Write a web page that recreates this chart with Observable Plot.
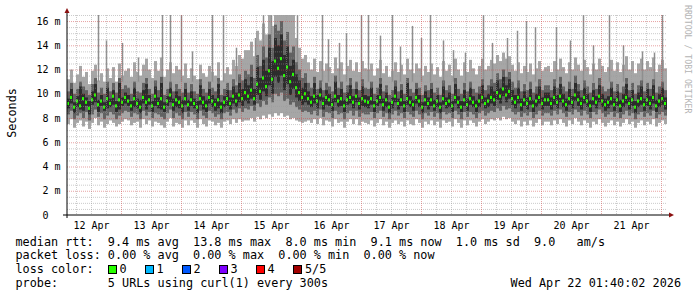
<!DOCTYPE html>
<html><head><meta charset="utf-8">
<script src="https://cdn.jsdelivr.net/npm/d3@7"></script>
<script src="https://cdn.jsdelivr.net/npm/@observablehq/plot@0.6"></script>
<style>body{margin:0;background:#fff}</style>
</head><body><div id="chart"></div>
<script>
// ---- time frame (UTC) ----
const startTime = Date.UTC(2026, 3, 12, 2, 24);
const endTime = Date.UTC(2026, 3, 22, 2, 24);
const stepMinutes = 72; // one column = 72 minutes, 200 columns

// ---- smoke bands (ms), one value per column, 20 per day ----
const hi = [
11.2,12.0,10.9,11.6,12.3,11.4,11.8,10.8,11.9,12.4,11.1,11.7,11.0,12.1,11.3,12.2,11.0,12.5,11.5,11.9,
12.1,11.4,12.6,11.8,11.5,12.4,12.9,12.0,11.3,12.7,11.9,13.0,11.4,12.0,12.6,11.7,12.3,12.0,11.5,12.5,
11.3,12.1,11.5,11.2,12.4,11.7,11.4,12.3,11.8,11.5,12.6,11.1,11.7,12.2,11.6,12.8,12.3,13.2,12.9,13.6,
13.6,14.3,13.1,15.2,14.4,15.8,14.9,16.6,15.6,16.6,16.6,16.6,16.6,16.6,16.6,16.6,14.6,13.8,12.9,13.2,
12.6,12.0,12.9,11.8,12.7,11.9,12.5,12.2,11.7,13.0,12.1,12.6,11.6,12.3,12.8,11.9,12.6,11.8,12.7,12.1,
12.0,12.5,11.5,12.1,12.8,11.7,12.3,11.4,11.9,12.6,11.8,12.4,11.6,12.9,12.0,11.7,12.5,12.1,11.5,12.3,
11.8,12.5,11.6,12.2,11.4,12.7,11.9,12.4,11.5,12.9,12.0,11.5,12.6,11.8,12.8,12.1,11.6,12.3,12.9,12.0,
12.3,12.8,12.5,13.2,12.7,13.4,12.9,13.1,12.4,11.9,12.6,11.7,12.3,11.8,12.5,11.6,12.1,12.7,11.9,12.2,
12.3,11.8,12.7,12.0,12.9,12.2,11.7,12.6,12.0,13.0,12.4,11.9,12.8,12.2,11.6,12.5,12.0,12.9,12.3,11.8,
12.2,12.8,11.9,12.6,11.8,12.4,13.1,12.0,12.7,11.7,12.5,12.9,12.0,12.7,12.2,13.0,11.8,12.4,12.8,12.1];
const q3 = [
10.2,10.9,10.0,10.4,11.0,10.6,10.3,9.9,10.8,11.3,10.1,10.5,10.0,11.0,10.2,10.9,10.1,11.3,10.4,10.7,
10.5,10.0,11.0,10.2,10.1,10.9,11.3,10.4,10.0,11.1,10.3,11.4,9.9,10.4,11.0,10.2,10.8,10.4,10.1,10.9,
10.1,10.8,10.2,10.0,11.2,10.4,10.1,11.0,10.5,10.2,11.3,9.9,10.4,10.9,10.3,11.2,10.7,11.6,11.1,11.9,
11.6,12.4,11.3,13.2,12.3,13.9,13.0,14.9,13.8,15.7,15.2,16.0,14.4,15.1,13.4,13.9,12.6,12.0,11.3,11.7,
10.9,10.5,11.4,10.4,11.1,10.3,10.9,10.6,10.2,11.5,10.5,11.0,10.1,10.7,11.3,10.4,11.0,10.3,11.2,10.5,
10.4,11.0,10.0,10.5,11.3,10.2,10.7,9.9,10.3,11.1,10.2,10.8,10.0,11.3,10.4,10.1,10.9,10.5,9.9,10.7,
10.3,10.9,10.1,10.5,9.9,11.1,10.3,10.7,10.0,11.3,10.4,10.0,10.9,10.2,11.0,10.4,10.1,10.6,11.2,10.3,
10.7,11.2,10.9,11.7,11.2,12.0,11.4,11.8,11.0,10.5,11.1,10.2,10.8,10.3,11.0,10.1,10.6,11.2,10.3,10.7,
10.7,10.3,11.2,10.5,11.4,10.6,10.2,11.0,10.4,11.5,10.8,10.3,11.1,10.6,10.1,10.9,10.4,11.3,10.6,10.2,
10.4,11.0,10.2,10.8,10.1,10.6,11.3,10.3,10.9,10.0,10.7,11.1,10.2,10.9,10.4,11.2,10.1,10.6,11.0,10.3];
const dhi = [
9.6,10.4,9.3,9.8,10.6,10.0,9.7,9.4,10.2,10.8,9.5,9.9,9.3,10.5,9.6,10.3,9.4,10.9,9.7,10.1,
9.9,9.4,10.5,9.6,9.5,10.3,10.8,9.9,9.4,10.6,9.7,10.9,9.3,9.8,10.5,9.6,10.2,9.8,9.5,10.4,
9.5,10.2,9.6,9.4,10.7,9.8,9.5,10.4,9.9,9.6,10.8,9.3,9.8,10.3,9.7,10.6,10.1,10.9,10.4,11.2,
10.7,11.4,10.4,12.2,11.3,12.8,11.9,13.8,12.7,14.6,14.0,14.9,13.2,13.9,12.3,12.8,11.6,11.1,10.5,10.9,
10.2,9.8,10.9,9.9,10.5,9.7,10.3,10.0,9.6,11.0,9.9,10.4,9.5,10.1,10.7,9.8,10.4,9.7,10.6,9.9,
9.8,10.5,9.4,9.9,10.8,9.6,10.1,9.3,9.7,10.6,9.6,10.3,9.4,10.9,9.8,9.5,10.4,9.9,9.3,10.2,
9.7,10.4,9.5,9.9,9.3,10.6,9.7,10.1,9.4,10.8,9.8,9.4,10.3,9.6,10.5,9.8,9.5,10.0,10.7,9.7,
10.0,10.6,10.2,11.1,10.5,11.4,10.7,11.2,10.3,9.9,10.5,9.6,10.2,9.7,10.4,9.5,10.0,10.6,9.7,10.1,
10.1,9.7,10.6,9.9,10.8,10.0,9.6,10.4,9.8,10.9,10.2,9.7,10.5,10.0,9.5,10.3,9.8,10.7,10.0,9.6,
9.8,10.5,9.6,10.2,9.5,10.0,10.8,9.7,10.3,9.4,10.1,10.6,9.6,10.4,9.8,10.7,9.5,10.0,10.5,9.7];
const med = [
9.2,9.7,8.9,9.4,9.0,9.6,9.3,8.8,9.5,9.9,9.1,9.4,8.9,9.6,9.2,9.8,9.0,9.5,9.3,9.7,
9.4,9.0,9.6,9.2,8.9,9.7,9.3,9.5,9.0,9.8,9.2,9.6,8.9,9.4,9.9,9.1,9.5,9.3,9.0,9.6,
9.1,9.5,9.2,8.9,9.6,9.3,9.0,9.7,9.4,9.1,9.5,8.9,9.3,9.6,9.2,9.8,9.4,9.9,9.6,10.1,
9.8,10.3,9.6,10.8,10.2,11.3,10.6,11.9,11.2,12.7,12.1,12.9,11.5,12.2,11.0,11.6,10.5,10.1,9.7,10.0,
9.6,9.3,9.8,9.4,9.9,9.2,9.7,9.5,9.1,9.8,9.4,9.6,9.0,9.5,9.7,9.3,9.8,9.2,9.6,9.4,
9.3,9.6,9.0,9.4,9.7,9.1,9.5,8.9,9.3,9.8,9.2,9.5,9.0,9.6,9.3,9.1,9.7,9.4,8.9,9.5,
9.2,9.5,9.0,9.4,8.9,9.6,9.2,9.4,9.0,9.7,9.3,8.9,9.5,9.1,9.6,9.3,9.0,9.4,9.7,9.2,
9.4,9.7,9.5,10.1,9.8,10.4,9.9,10.2,9.6,9.3,9.7,9.1,9.5,9.2,9.6,9.0,9.4,9.7,9.2,9.5,
9.5,9.2,9.7,9.3,9.8,9.4,9.1,9.6,9.3,9.9,9.5,9.2,9.7,9.4,9.0,9.6,9.3,9.8,9.4,9.1,
9.3,9.6,9.1,9.5,9.0,9.4,9.7,9.2,9.5,8.9,9.4,9.6,9.1,9.5,9.2,9.7,9.0,9.4,9.6,9.2];
const dlo = [
8.8,9.2,8.4,8.9,8.7,8.6,9.0,8.3,9.1,9.3,8.5,9.0,8.6,8.8,8.9,9.1,8.5,8.7,9.0,9.2,
9.0,8.6,8.9,8.8,8.4,9.2,8.7,9.1,8.5,9.0,8.8,8.7,8.5,9.0,9.3,8.6,8.9,8.8,8.4,9.1,
8.6,9.0,8.8,8.4,9.1,8.7,8.5,9.2,8.9,8.6,8.8,8.4,8.9,9.0,8.7,9.2,8.9,9.3,9.0,9.4,
9.2,9.6,9.1,9.9,9.5,10.2,9.8,10.7,10.0,11.4,10.9,11.5,10.3,10.8,9.9,10.4,9.7,9.4,9.1,9.3,
9.1,8.9,9.2,8.8,9.4,8.7,9.1,9.0,8.6,9.3,8.9,9.0,8.5,9.1,9.2,8.8,9.3,8.7,9.0,8.9,
8.8,9.1,8.5,9.0,9.2,8.6,8.9,8.4,8.8,9.3,8.7,9.0,8.5,9.1,8.9,8.6,9.2,8.9,8.4,9.0,
8.7,9.0,8.6,8.9,8.4,9.1,8.8,8.9,8.5,9.2,8.8,8.5,9.0,8.6,9.1,8.9,8.5,8.9,9.2,8.8,
8.9,9.2,9.0,9.5,9.2,9.8,9.3,9.6,9.1,8.8,9.2,8.6,9.0,8.7,9.1,8.5,8.9,9.2,8.7,9.0,
9.0,8.7,9.1,8.8,9.3,8.9,8.6,9.1,8.8,9.4,9.0,8.7,9.2,8.9,8.5,9.1,8.8,9.3,8.9,8.6,
8.8,9.1,8.6,9.0,8.5,8.9,9.2,8.7,9.0,8.4,8.9,9.1,8.6,9.0,8.7,9.2,8.5,8.9,9.1,8.7];
const q1 = [
8.3,8.6,7.9,8.2,8.4,8.0,8.5,7.8,8.3,8.7,8.1,8.4,7.9,8.2,8.5,8.3,7.9,8.2,8.4,8.6,
8.5,8.1,8.4,8.3,7.9,8.6,8.2,8.5,8.0,8.4,8.3,8.1,7.9,8.4,8.7,8.0,8.4,8.2,7.9,8.5,
8.1,8.5,8.3,7.9,8.6,8.2,8.0,8.6,8.4,8.1,8.3,7.9,8.4,8.5,8.2,8.7,8.4,8.8,8.5,8.8,
8.7,9.0,8.6,9.2,8.9,9.4,9.1,9.7,9.3,10.0,9.8,10.1,9.4,9.6,9.1,9.3,8.9,8.7,8.5,8.6,
8.5,8.3,8.6,8.2,8.7,8.1,8.5,8.4,8.0,8.6,8.3,8.4,7.9,8.4,8.6,8.2,8.6,8.1,8.4,8.3,
8.3,8.5,8.0,8.4,8.6,8.1,8.4,7.9,8.3,8.6,8.2,8.4,8.0,8.5,8.3,8.1,8.6,8.3,7.9,8.4,
8.2,8.5,8.1,8.4,7.9,8.5,8.3,8.4,8.0,8.6,8.3,7.9,8.5,8.1,8.5,8.3,8.0,8.4,8.6,8.2,
8.4,8.6,8.5,8.8,8.6,9.0,8.7,8.8,8.5,8.3,8.5,8.1,8.4,8.2,8.5,8.0,8.3,8.6,8.2,8.4,
8.4,8.2,8.6,8.3,8.7,8.4,8.1,8.5,8.3,8.7,8.5,8.2,8.6,8.3,8.0,8.5,8.3,8.7,8.4,8.1,
8.3,8.5,8.1,8.4,8.0,8.3,8.6,8.2,8.4,7.9,8.3,8.5,8.1,8.4,8.2,8.6,8.0,8.3,8.5,8.2];
const lo = [
7.5,7.9,7.2,7.6,7.8,7.3,7.7,7.1,7.6,8.0,7.4,7.7,7.2,7.5,7.8,7.6,7.3,7.5,7.7,7.9,
7.8,7.4,7.6,7.7,7.2,7.9,7.5,7.8,7.3,7.7,7.6,7.4,7.2,7.7,8.0,7.3,7.6,7.5,7.2,7.8,
7.4,7.8,7.6,7.2,7.9,7.5,7.3,7.8,7.7,7.4,7.6,7.2,7.7,7.8,7.5,7.9,7.6,7.9,7.7,7.8,
7.8,8.0,7.7,8.1,7.9,8.2,8.0,8.3,8.1,8.4,8.2,8.4,8.1,8.2,7.9,8.0,7.8,7.7,7.6,7.7,
7.8,7.6,7.9,7.5,8.0,7.4,7.8,7.7,7.3,7.9,7.6,7.7,7.2,7.7,7.9,7.5,7.9,7.4,7.7,7.6,
7.5,7.8,7.3,7.6,7.9,7.4,7.7,7.2,7.6,7.8,7.5,7.7,7.3,7.8,7.5,7.4,7.9,7.6,7.2,7.7,
7.5,7.8,7.4,7.7,7.2,7.8,7.6,7.7,7.3,7.9,7.6,7.2,7.8,7.4,7.8,7.6,7.3,7.7,7.9,7.5,
7.7,7.9,7.8,8.0,7.8,8.1,7.9,8.0,7.7,7.5,7.8,7.3,7.7,7.4,7.8,7.3,7.6,7.9,7.4,7.7,
7.7,7.4,7.8,7.5,7.9,7.6,7.3,7.8,7.5,8.0,7.7,7.4,7.8,7.6,7.2,7.7,7.5,7.9,7.6,7.3,
7.6,7.8,7.4,7.7,7.3,7.6,7.9,7.5,7.7,7.2,7.6,7.8,7.4,7.7,7.5,7.9,7.3,7.6,7.8,7.5];

// ---- isolated high-rtt spikes: hours after start, top value (ms) ----
const spikeHour = [12.4,15.6,22.0,28.4,38.0,41.2,45.6,50.0,58.0,62.4,67.6,75.2,78.4,81.6,92.0,
  102.0,104.4,108.8,111.6,117.6,120.4,125.2,130.0,133.2,138.0,141.6,145.2,150.4,154.4,159.2,
  166.4,170.0,176.0,180.0,183.6,187.2,195.6,201.2,206.4,210.4,216.8,222.4,230.0,234.8,238.0];
const spikeTop = [16.6,14.4,14.2,13.0,16.6,16.6,16.6,13.5,16.6,16.6,13.8,14.6,16.6,16.6,16.6,
  16.6,14.5,14.2,15.0,16.6,16.6,14.8,16.6,13.9,15.6,14.6,16.6,14.4,13.6,13.4,
  16.6,14.2,14.6,15.2,16.0,15.5,15.5,14.4,16.6,14.0,16.6,14.0,13.5,13.4,16.6];

// ---- tick labels ----
const dayLabels = ["12 Apr","13 Apr","14 Apr","15 Apr","16 Apr","17 Apr","18 Apr","19 Apr","20 Apr","21 Apr"];
const yTicks = [0,2,4,6,8,10,12,14,16];
const yLabels = ["0\u00a0\u00a0","2 m","4 m","6 m","8 m","10 m","12 m","14 m","16 m"];

// ---- legend ----
const statLines = [
  "median rtt:  9.4 ms avg  13.8 ms max  8.0 ms min  9.1 ms now  1.0 ms sd  9.0   am/s",
  "packet loss: 0.00 % avg  0.00 % max  0.00 % min  0.00 % now",
  "loss color:",
  "probe:       5 URLs using curl(1) every 300s"
];
const lossLabels = ["0","1","2","3","4","5/5"];
const lossColors = ["#26ff00","#00b8ff","#0059ff","#7e00ff","#ff0000","#a10000"];
const stamp = "Wed Apr 22 01:40:02 2026";
const watermark = "RRDTOOL / TOBI OETIKER";

// ---- build tables ----
const stepMs = stepMinutes * 60000;
const rows = med.map((m, i) => ({
  t1: new Date(startTime + i * stepMs), t2: new Date(startTime + (i + 1) * stepMs),
  lo: lo[i], q1: q1[i], dlo: dlo[i], med: m, dhi: dhi[i], q3: q3[i], hi: hi[i]
}));
const spikes = spikeHour.map((h, i) => ({t: new Date(startTime + h * 3600000), top: spikeTop[i]}));
const dayNoons = dayLabels.map((_, i) => Date.UTC(2026, 3, 12 + i, 12));
const dayLabelMap = new Map(dayNoons.map((t, i) => [t, dayLabels[i]]));
const yLabelMap = new Map(yTicks.map((v, i) => [v, yLabels[i]]));
const midnights = d3.utcDay.range(new Date(startTime), new Date(endTime));
const sixHours = d3.utcHour.every(6).range(new Date(startTime), new Date(endTime)).filter(d => d.getUTCHours() !== 0);
const minorY = d3.range(0.5, 16.51, 0.5).filter(v => v % 2 !== 0);
const majorY = d3.range(2, 16.1, 2);

const chart = Plot.plot({
  width: 697, height: 297,
  marginLeft: 67, marginRight: 30, marginTop: 15, marginBottom: 82,
  style: {fontFamily: "'DejaVu Sans Mono', monospace", fontSize: "10px", background: "#fff", color: "#000", overflow: "visible"},
  x: {type: "utc", domain: [new Date(startTime), new Date(endTime)]},
  y: {domain: [0, 16.5]},
  marks: [
    Plot.rect(rows, {x1: "t1", x2: "t2", y1: "lo", y2: "hi", fill: "#a6a6a6", clip: true}),
    Plot.ruleX(spikes, {x: "t", y1: 11, y2: "top", stroke: "#8e8e8e", strokeWidth: 1.5, clip: true}),
    Plot.rect(rows, {x1: "t1", x2: "t2", y1: "q1", y2: "q3", fill: "#626262", clip: true}),
    Plot.rect(rows, {x1: "t1", x2: "t2", y1: "dlo", y2: "dhi", fill: "#2c2c2c", clip: true}),
    Plot.rect(rows, {x1: "t1", x2: "t2", y1: d => d.med - 0.13, y2: d => d.med + 0.13, fill: "#26ff00", insetRight: 1, clip: true}),
    Plot.ruleY(minorY, {stroke: "#9a9a9a", strokeOpacity: 0.5, strokeDasharray: "1,1"}),
    Plot.ruleX(sixHours, {stroke: "#9a9a9a", strokeOpacity: 0.5, strokeDasharray: "1,1"}),
    Plot.ruleY(majorY, {stroke: "#d04848", strokeOpacity: 0.5, strokeDasharray: "1,1"}),
    Plot.ruleX(midnights, {stroke: "#d04848", strokeOpacity: 0.5, strokeDasharray: "1,1"}),
    Plot.axisX({ticks: dayNoons.map(t => new Date(t)), tickFormat: d => dayLabelMap.get(+d), tickSize: 0, tickPadding: 6, label: null, fill: "#000"}),
    Plot.axisY({ticks: yTicks, tickFormat: d => yLabelMap.get(d), tickSize: 0, tickPadding: 7, label: null, fill: "#000"})
  ]
});
document.getElementById("chart").appendChild(chart);

// ---- axis lines, arrows and text via the chart's scales ----
const svg = d3.select(chart);
const xs = chart.scale("x"), ys = chart.scale("y");
const x0 = xs.apply(new Date(startTime)), xEnd = xs.apply(new Date(endTime));
const y0 = ys.apply(0), yTop = ys.apply(16.5);
svg.append("line").attr("x1", x0).attr("x2", x0).attr("y1", y0 + 3).attr("y2", yTop - 4).attr("stroke", "#000");
svg.append("line").attr("x1", x0 - 4).attr("x2", xEnd + 3).attr("y1", y0).attr("y2", y0).attr("stroke", "#000");
svg.append("path").attr("d", `M${x0 - 2.5},${yTop - 2}L${x0 + 2.5},${yTop - 2}L${x0},${yTop - 7}Z`).attr("fill", "#8b1010");
svg.append("path").attr("d", `M${xEnd + 2},${y0 - 2.5}L${xEnd + 2},${y0 + 2.5}L${xEnd + 7},${y0}Z`).attr("fill", "#8b1010");

const mono = "'DejaVu Sans Mono', monospace";
svg.append("text").attr("transform", `translate(15.5,${(y0 + yTop) / 2 - 2}) rotate(-90)`)
  .attr("text-anchor", "middle").attr("font-family", mono).attr("font-size", "11.8px").attr("fill", "#000").text("Seconds");
svg.append("text").attr("transform", "translate(685,5) rotate(90)").attr("text-anchor", "start")
  .attr("font-family", mono).attr("font-size", "8.2px").attr("fill", "#b4b4b4").text(watermark);

const lineY = [245.5, 259.2, 272.9, 286.6];
statLines.forEach((s, i) => {
  svg.append("text").attr("x", 15.5).attr("y", lineY[i]).attr("text-anchor", "start").attr("font-family", mono).attr("font-size", "11.8px")
    .attr("fill", "#000").style("white-space", "pre").attr("xml:space", "preserve").text(s);
});
const boxX = [108, 145, 182, 219, 256, 293];
const labX = [119.5, 156.5, 193.5, 230.5, 267.5, 305];
lossLabels.forEach((l, i) => {
  svg.append("rect").attr("x", boxX[i] + 0.5).attr("y", 265.5).attr("width", 8).attr("height", 8)
    .attr("fill", lossColors[i]).attr("stroke", "#000");
  svg.append("text").attr("x", labX[i]).attr("y", lineY[2]).attr("text-anchor", "start").attr("font-family", mono).attr("font-size", "11.8px")
    .attr("fill", "#000").text(l);
});
svg.append("text").attr("x", 681).attr("y", lineY[3]).attr("text-anchor", "end").attr("font-family", mono)
  .attr("font-size", "11.8px").attr("fill", "#000").text(stamp);
</script>
</body></html>
